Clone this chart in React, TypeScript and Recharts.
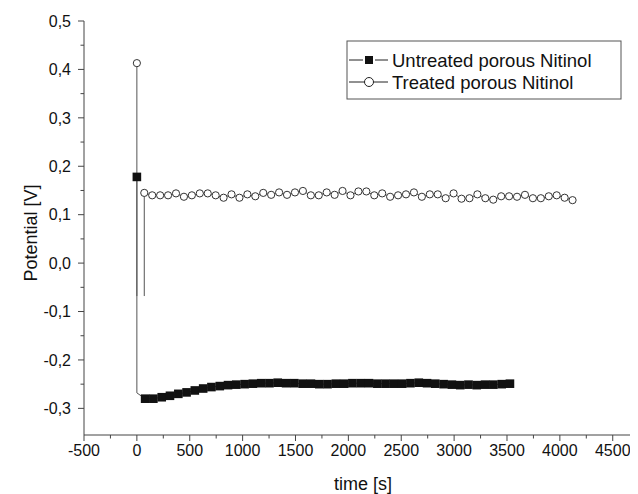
import { ComposedChart, Customized, Line, XAxis, YAxis } from "recharts";

const FONT = '"Liberation Sans", Arial, sans-serif';
const AXIS = "#444";

// treated porous Nitinol: start spike, then the sampled curve
const treatedSpikeT = [0, 0, 35, 70];
const treatedSpikeV = [0.413, -0.068, null, -0.068];
const treatedTimes = [
  70, 145, 220, 295, 370, 445, 520, 595, 670, 745, 820, 895, 970, 1045, 1120, 1195, 1270, 1345, 1420,
  1495, 1570, 1645, 1720, 1795, 1870, 1945, 2020, 2095, 2170, 2245, 2320, 2395, 2470, 2545, 2620, 2695,
  2770, 2845, 2920, 2995, 3070, 3145, 3220, 3295, 3370, 3445, 3520, 3595, 3670, 3745, 3820, 3895, 3970,
  4045, 4120
];
const treatedValues = [
  0.145, 0.14, 0.14, 0.14, 0.144, 0.137, 0.14, 0.144, 0.144, 0.14, 0.135, 0.142, 0.135, 0.142, 0.138,
  0.145, 0.141, 0.146, 0.141, 0.146, 0.149, 0.14, 0.14, 0.146, 0.141, 0.149, 0.14, 0.148, 0.148, 0.14,
  0.144, 0.137, 0.14, 0.142, 0.146, 0.137, 0.142, 0.142, 0.134, 0.144, 0.133, 0.134, 0.142, 0.134,
  0.131, 0.138, 0.138, 0.137, 0.141, 0.134, 0.134, 0.138, 0.14, 0.135, 0.13
];

// untreated porous Nitinol
const untreatedSpikeT = [0, 0];
const untreatedSpikeV = [0.178, -0.268];
const untreatedTimes = [
  78, 156, 235, 313, 392, 470, 548, 627, 705, 784, 862, 940, 1019, 1097, 1176, 1254, 1332, 1411, 1489,
  1568, 1646, 1725, 1803, 1882, 1960, 2038, 2117, 2195, 2274, 2352, 2430, 2509, 2587, 2666, 2744, 2822,
  2901, 2979, 3058, 3136, 3214, 3293, 3371, 3450, 3528
];
const untreatedValues = [
  -0.28, -0.28, -0.277, -0.274, -0.27, -0.267, -0.263, -0.259, -0.256, -0.254, -0.252, -0.251, -0.25,
  -0.249, -0.248, -0.248, -0.247, -0.248, -0.248, -0.249, -0.249, -0.25, -0.25, -0.249, -0.249, -0.248,
  -0.248, -0.248, -0.249, -0.249, -0.249, -0.249, -0.248, -0.247, -0.248, -0.249, -0.25, -0.251, -0.252,
  -0.251, -0.252, -0.251, -0.251, -0.25, -0.249
];

const xTicks = [
  -500, -250, 0, 250, 500, 750, 1000, 1250, 1500, 1750, 2000, 2250, 2500, 2750, 3000, 3250, 3500, 3750,
  4000, 4250, 4500
];
const yTicks = [-0.3, -0.25, -0.2, -0.15, -0.1, -0.05, 0, 0.05, 0.1, 0.15, 0.2, 0.25, 0.3, 0.35, 0.4, 0.45, 0.5];

const zip = (ts: number[], vs: (number | null)[]) => ts.map((t, i) => ({ t, v: vs[i] }));

const treatedPath = [...zip(treatedSpikeT, treatedSpikeV), ...zip(treatedTimes, treatedValues)];
const treatedMarks = [zip(treatedSpikeT, treatedSpikeV)[0], ...zip(treatedTimes, treatedValues)];
const untreatedPath = [...zip(untreatedSpikeT, untreatedSpikeV), ...zip(untreatedTimes, untreatedValues)];
const untreatedMarks = [zip(untreatedSpikeT, untreatedSpikeV)[0], ...zip(untreatedTimes, untreatedValues)];

function XTick({ x, y, payload }: any) {
  const axisY = y - 10;
  const major = payload.value % 500 === 0;
  return (
    <g>
      <line x1={x} x2={x} y1={axisY} y2={axisY + (major ? 6 : 3.5)} stroke={AXIS} />
      {major && (
        <text x={x} y={axisY + 21} textAnchor="middle" fontSize={16} fontFamily={FONT} fill="#111">
          {payload.value}
        </text>
      )}
    </g>
  );
}

function YTick({ x, y, payload }: any) {
  const axisX = x + 10;
  const major = Math.round(payload.value * 100) % 10 === 0;
  return (
    <g>
      <line x1={axisX - (major ? 6 : 3.5)} x2={axisX} y1={y} y2={y} stroke={AXIS} />
      {major && (
        <text x={axisX - 13} y={y} dy="0.36em" textAnchor="end" fontSize={16} fontFamily={FONT} fill="#111">
          {payload.value.toFixed(1).replace(".", ",")}
        </text>
      )}
    </g>
  );
}

const square = (p: any) => (
  <rect key={`s${p.index}`} x={p.cx - 4.3} y={p.cy - 4.3} width={8.6} height={8.6} fill="#111" />
);
const circle = (p: any) => (
  <circle key={`c${p.index}`} cx={p.cx} cy={p.cy} r={3.6} fill="#fff" stroke="#333" strokeWidth={1} />
);

function Extras() {
  const lx = 339;
  const ly = 33;
  return (
    <g fontFamily={FONT} fill="#111">
      <text x={23} y={225} transform="rotate(-90 23 225)" textAnchor="middle" dy="0.36em" fontSize={18}>
        Potential [V]
      </text>
      <text x={355} y={476} textAnchor="middle" dy="0.36em" fontSize={18}>
        time [s]
      </text>
      <rect x={lx} y={ly} width={274} height={58} fill="#fff" stroke="#555" />
      <line x1={lx + 2} x2={lx + 16} y1={ly + 19} y2={ly + 19} stroke="#222" />
      <line x1={lx + 28} x2={lx + 41} y1={ly + 19} y2={ly + 19} stroke="#222" />
      <rect x={lx + 18} y={ly + 15} width={8} height={8} fill="#111" />
      <text x={lx + 45} y={ly + 19} dy="0.36em" fontSize={18.5}>
        Untreated porous Nitinol
      </text>
      <line x1={lx + 2} x2={lx + 41} y1={ly + 41} y2={ly + 41} stroke="#222" />
      <circle cx={lx + 22} cy={ly + 41} r={4.5} fill="#fff" stroke="#222" />
      <text x={lx + 45} y={ly + 41} dy="0.36em" fontSize={18.5}>
        Treated porous Nitinol
      </text>
    </g>
  );
}

export default function App() {
  return (
    <div style={{ width: 630, height: 486 }}>
      <ComposedChart width={630} height={486} margin={{ top: 13, right: 2, left: 0, bottom: 0 }}>
        <XAxis
          type="number"
          dataKey="t"
          domain={[-500, 4720]}
          ticks={xTicks}
          interval={0}
          allowDataOverflow
          tick={<XTick />}
          tickLine={false}
          tickSize={6}
          tickMargin={4}
          axisLine={{ stroke: AXIS }}
          height={59}
        />
        <YAxis
          type="number"
          dataKey="v"
          domain={[-0.355, 0.5]}
          ticks={yTicks}
          interval={0}
          allowDataOverflow
          tick={<YTick />}
          tickLine={false}
          tickSize={6}
          tickMargin={4}
          axisLine={{ stroke: AXIS }}
          width={76}
        />
        <Line data={untreatedPath} dataKey="v" stroke="#555" strokeWidth={1} dot={false} activeDot={false} isAnimationActive={false} />
        <Line data={treatedPath} dataKey="v" stroke="#555" strokeWidth={1} dot={false} activeDot={false} isAnimationActive={false} />
        <Line data={untreatedMarks} dataKey="v" stroke="none" dot={square} activeDot={false} isAnimationActive={false} />
        <Line data={treatedMarks} dataKey="v" stroke="none" dot={circle} activeDot={false} isAnimationActive={false} />
        <Customized component={Extras} />
      </ComposedChart>
    </div>
  );
}
